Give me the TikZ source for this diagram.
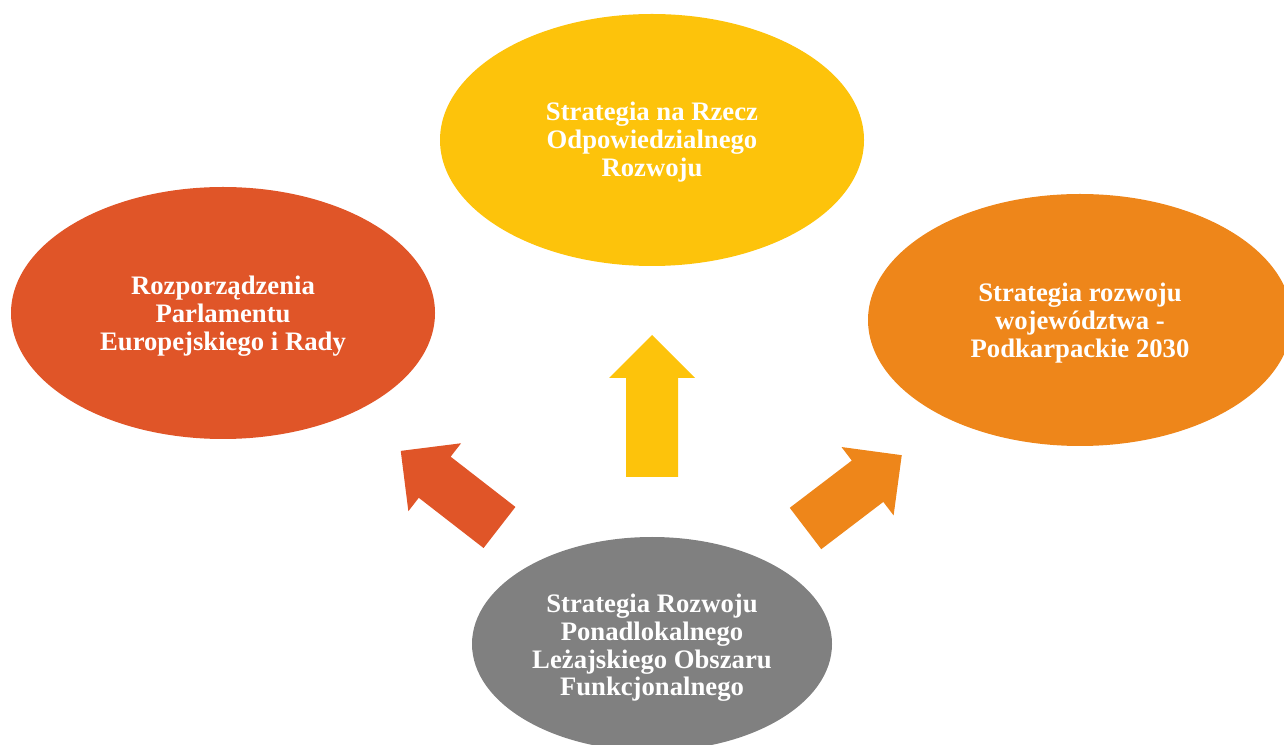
\documentclass[tikz,border=0pt]{standalone}
\usepackage{fontspec}
\setmainfont{Liberation Serif}
\usetikzlibrary{shapes.geometric}

\definecolor{redorange}{RGB}{224,85,40}
\definecolor{amber}{RGB}{238,134,26}
\definecolor{gold}{RGB}{253,195,11}
\definecolor{slate}{RGB}{128,128,128}

\tikzset{
  oval/.style={ellipse, inner sep=0pt, minimum width=424pt, minimum height=252pt},
  caption/.style={text=white, align=center, inner sep=0pt,
    font=\fontsize{26.7}{27.7}\selectfont\bfseries},
  pics/blockarrow/.style={code={
    \fill[pic actions] (0,-26) -- (#1-43,-26) -- (#1-43,-43) -- (#1,0)
      -- (#1-43,43) -- (#1-43,26) -- (0,26) -- cycle;}}
}

\begin{document}
\begin{tikzpicture}[x=1pt,y=1pt]
  \useasboundingbox (0,0) rectangle (1284,744);

  \node[oval, fill=gold] (odp) at (652,604) {};
  \node[oval, fill=redorange] (rozp) at (223,431) {};
  \node[oval, fill=amber] (podk) at (1080,424) {};
  \node[oval, fill=slate, minimum width=360pt, minimum height=214pt] (lof) at (652,100) {};

  \node[caption] (odptxt) at ([yshift=-2pt]odp) {Strategia na Rzecz\\Odpowiedzialnego\\Rozwoju};
  \node[caption] (rozptxt) at ([yshift=-3pt]rozp) {Rozporządzenia\\Parlamentu\\Europejskiego i Rady};
  \node[caption] (podktxt) at ([yshift=-3pt]podk) {Strategia rozwoju\\województwa -\\Podkarpackie 2030};
  \node[caption] (loftxt) at ([yshift=-4pt]lof) {Strategia Rozwoju\\Ponadlokalnego\\Leżajskiego Obszaru\\Funkcjonalnego};

  % block arrows from the bottom strategy
  \pic[rotate=90, fill=gold] at (652,267) {blockarrow=142};
  \pic[rotate=142.2, fill=redorange] at (499.5,216.5) {blockarrow=125};
  \pic[rotate=37.3, fill=amber] at (805.5,215.5) {blockarrow=121};
\end{tikzpicture}
\end{document}
